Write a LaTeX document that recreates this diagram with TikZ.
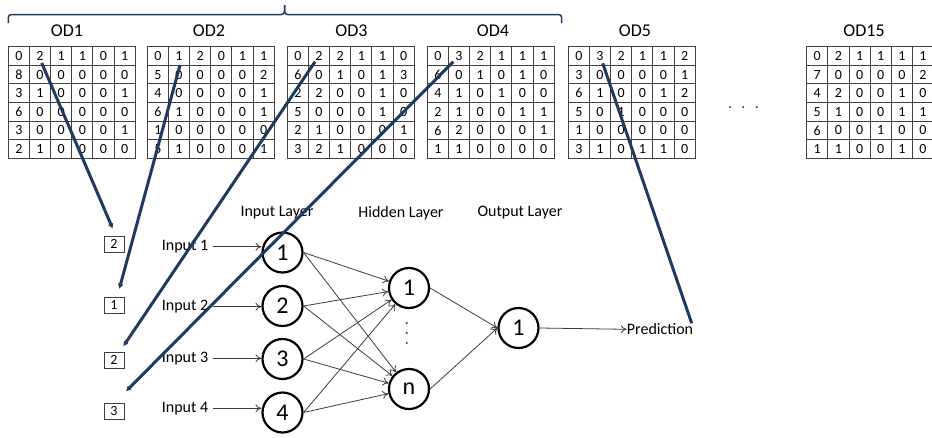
\documentclass[tikz,border=0pt]{standalone}
\usepackage{fontspec}
\setmainfont{Carlito}
\usetikzlibrary{arrows.meta,calc}
\definecolor{navy}{HTML}{1F3A5F}
\definecolor{gridc}{HTML}{404040}
\definecolor{txt}{HTML}{000000}
\definecolor{nnline}{HTML}{3C3C3C}
\newcommand\odmatrix[5]{%
  \foreach \rowvals [count=\ri] in {#5} {
    \foreach \v [count=\ci] in \rowvals {
      \node[cell] (#1-\ri-\ci) at ({#2+(\ci-0.5)*21.15}, {46.7+(\ri-0.5)*18.6}) {\v};
    }
  }
  \node[odlabel] (#1-label) at (#3, 31) {#4};
}
\begin{document}
\begin{tikzpicture}[x=1pt,y=-1pt,
  cell/.style={draw=gridc, line width=0.9pt, minimum width=21.15pt, minimum height=18.6pt, inner sep=0pt, text=txt, font=\fontsize{14}{14}\selectfont},
  odlabel/.style={font=\fontsize{18}{18}\selectfont, inner sep=0pt, text=txt},
  bracepath/.style={draw=navy, line width=1.5pt, rounded corners=3pt},
  bluelink/.style={draw=navy, line width=3pt},
  bluetip/.style={bluelink, -{Latex[length=5pt,width=6pt]}},
  smallbox/.style={draw=gridc, line width=0.8pt, minimum width=20pt, minimum height=16pt, inner sep=0pt, text=txt, font=\fontsize{14}{14}\selectfont},
  inlabel/.style={inner sep=0pt, anchor=west, text=txt, font=\fontsize{16}{16}\selectfont},
  layerlabel/.style={inner sep=0pt, text=txt, font=\fontsize{16}{16}\selectfont},
  neuron/.style={circle, draw=black, line width=2.2pt, minimum size=40pt, inner sep=0pt, text=txt, font=\fontsize{24}{24}\selectfont},
  nnarrow/.style={draw=nnline, line width=0.8pt, -{To[length=6pt,width=8pt]}},
  dotfill/.style={fill=nnline, draw=none}
]
\useasboundingbox (0,0) rectangle (932,437);

% brace over OD1..OD4
\draw[bracepath] (8.3,23) |- (284.5,14.5) -- (284.5,5);
\draw[bracepath] (284.5,5) -- (284.5,14.5) -| (561.7,23);

% matrices
\odmatrix{m1}{8.3}{67}{OD1}{{0,2,1,1,0,1},{8,0,0,0,0,0},{3,1,0,0,0,1},{6,0,0,0,0,0},{3,0,0,0,0,1},{2,1,0,0,0,0}}
\odmatrix{m2}{147.3}{209}{OD2}{{0,1,2,0,1,1},{5,0,0,0,0,2},{4,0,0,0,0,1},{6,1,0,0,0,1},{1,0,0,0,0,0},{5,1,0,0,0,1}}
\odmatrix{m3}{287.3}{351.5}{OD3}{{0,2,2,1,1,0},{6,0,1,0,1,3},{2,2,0,0,1,0},{5,0,0,0,1,0},{2,1,0,0,0,1},{3,2,1,0,0,0}}
\odmatrix{m4}{427.3}{493}{OD4}{{0,3,2,1,1,1},{6,0,1,0,1,0},{4,1,0,1,0,0},{2,1,0,0,1,1},{6,2,0,0,0,1},{1,1,0,0,0,0}}
\odmatrix{m5}{568.3}{635}{OD5}{{0,3,2,1,1,2},{3,0,0,0,0,1},{6,1,0,0,1,2},{5,0,1,0,0,0},{1,0,0,0,0,0},{3,1,0,1,1,0}}
\odmatrix{m15}{806.7}{864}{OD15}{{0,2,1,1,1,1},{7,0,0,0,0,2},{4,2,0,0,1,0},{5,1,0,0,1,1},{6,0,0,1,0,0},{1,1,0,0,1,0}}

% ellipsis between OD5 and OD15
\foreach \dx in {730,743.3,756.7} \fill[dotfill] (\dx,107) circle (1.1pt);

% small input boxes
\node[smallbox] (b1) at (114,244) {2};
\node[smallbox] (b2) at (114,305) {1};
\node[smallbox] (b3) at (114,360) {2};
\node[smallbox] (b4) at (114,411) {3};

% layer labels
\node[layerlabel] (linput) at (277,213) {Input Layer};
\node[layerlabel] (lhidden) at (401,213) {Hidden Layer};
\node[layerlabel] (loutput) at (520,213) {Output Layer};

% input labels
\node[inlabel] (in1) at (161.7,246.7) {Input 1};
\node[inlabel] (in2) at (161.7,306.7) {Input 2};
\node[inlabel] (in3) at (161.7,358.3) {Input 3};
\node[inlabel] (in4) at (161.7,408.3) {Input 4};

% neurons
\node[neuron] (i1) at (282.5,252.5) {1};
\node[neuron] (i2) at (282.5,306) {2};
\node[neuron] (i3) at (282.5,359) {3};
\node[neuron] (i4) at (282.5,412.5) {4};
\node[neuron] (h1) at (409,288) {1};
\node[neuron] (hn) at (409,389) {n};
\node[neuron] (o) at (518.5,328) {1};
\node[inlabel] (pred) at (626.7,329.3) {Prediction};

% hidden layer vertical dots
\foreach \dy in {323,333,343} \fill[dotfill] (406.7,\dy) circle (1.1pt);

% input arrows
\foreach \k in {1,2,3,4}
  \draw[nnarrow, shorten <=5pt] (in\k.east) -- (in\k.east -| i\k.west);

% input to hidden
\foreach \k in {1,2,3,4} {
  \draw[nnarrow] (i\k.east) -- (h1);
  \draw[nnarrow] (i\k.east) -- (hn);
}
% hidden to output
\draw[nnarrow] (h1.east) -- (o.west);
\draw[nnarrow] (hn.east) -- (o.west);
\draw[nnarrow] (o.east) -- (pred.west);

% dark blue links
\draw[bluetip] ([shift={(1.7,7)}]m1-1-2.center) -- ([shift={(-1.3,-7)}]b1.north);
\draw[bluetip] ([shift={(1,9)}]m2-1-2.center) -- ([shift={(5.3,-7.7)}]b2.north);
\draw[bluetip] ([shift={(-4,5.7)}]m3-1-2.center) -- ([shift={(9.3,-5.3)}]b3.north);
\draw[bluetip] ([shift={(-5.7,5.7)}]m4-1-2.center) -- ([shift={(12,-11.3)}]b4.north);
\draw[bluelink] ([shift={(2.7,7.3)}]m5-1-2.center) -- ([shift={(-1.6,-6)}]pred.east);
\end{tikzpicture}
\end{document}
